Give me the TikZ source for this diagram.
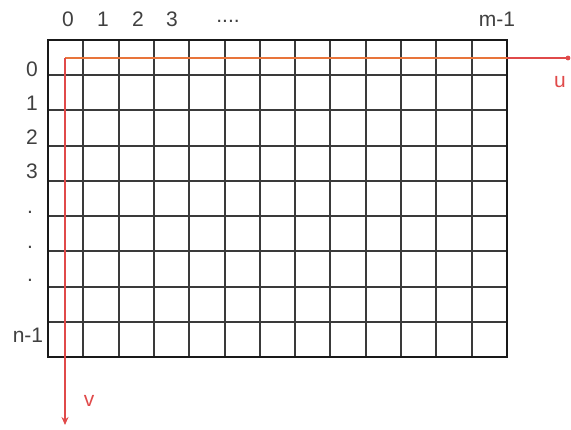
\documentclass[tikz,border=0pt]{standalone}
\usepackage{fontspec}
\setmainfont{Liberation Sans}
\usetikzlibrary{arrows.meta}
\definecolor{axisred}{HTML}{E04A4A}
\definecolor{axisorange}{HTML}{E8743A}
\definecolor{labelgray}{HTML}{404040}
\definecolor{gridgray}{HTML}{3A3A3A}
\begin{document}
\begin{tikzpicture}[x=1pt,y=-1pt,
  lbl/.style={text=labelgray,font=\fontsize{21}{21}\selectfont,inner sep=0pt},
  axlbl/.style={text=axisred,font=\fontsize{21}{21}\selectfont,inner sep=0pt},
  gridline/.style={draw=gridgray,line width=1.6pt},
  border/.style={draw=black!90,line width=2.8pt},
  axisline/.style={draw=axisred,line width=1.4pt}]
\useasboundingbox (0,0) rectangle (571,430);
% grid
\foreach \x in {83,119,154,189,225,260,295,330,366,401,436,472}
  \draw[gridline] (\x,40) -- (\x,357);
\foreach \y in {75,110,146,181,216,251,287,322}
  \draw[gridline] (48,\y) -- (507,\y);
\node (img) [border,rectangle,inner sep=0pt,minimum width=459pt,minimum height=317pt] at (277.5,198.5) {};
% axes
\coordinate (O) at (65,58);
\coordinate (uend) at (568,58);
\coordinate (vend) at (65,425);
\draw[axisline,draw=axisorange] (O) -- (507,58);
\draw[axisline] (507,58) -- (uend);
\fill[axisred] (uend) circle (2.4pt);
\draw[axisline,-{Stealth[length=8pt,width=7pt]}] (O) -- (vend);
\node[axlbl] (u) at (560,82) {u};
\node[axlbl] (v) at (89,401) {v};
% column labels
\node[lbl] (c0) at (68,19) {0};
\node[lbl] (c1) at (103,19) {1};
\node[lbl] (c2) at (138,19) {2};
\node[lbl] (c3) at (172,19) {3};
\node[lbl] (cd) at (228,21) {....};
\node[lbl] (cm) at (497,19) {m-1};
% row labels
\node[lbl] (r0) at (32,69) {0};
\node[lbl] (r1) at (32,103) {1};
\node[lbl] (r2) at (32,137) {2};
\node[lbl] (r3) at (32,171) {3};
\node[lbl] (rd1) at (30,212) {.};
\node[lbl] (rd2) at (30,247) {.};
\node[lbl] (rd3) at (30,280) {.};
\node[lbl] (rn) at (28,335) {n-1};
\end{tikzpicture}
\end{document}
